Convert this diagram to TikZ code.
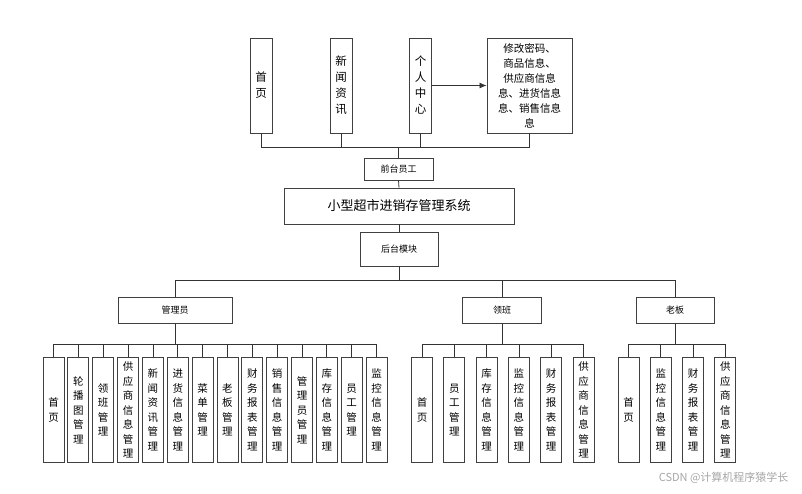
\documentclass[tikz,border=0pt]{standalone}
\usepackage{fontspec}
\setmainfont{Noto Sans CJK SC}
\usetikzlibrary{arrows.meta}
\begin{document}
\begin{tikzpicture}[x=1pt,y=-1pt,
  box/.style={draw=black!75,line width=0.9pt,fill=white,inner sep=0pt,align=center},
  vbox/.style={box,minimum width=21pt,minimum height=105pt,font=\fontsize{10.5}{14.5}\selectfont},
  tbox/.style={box,minimum width=22pt,minimum height=95pt,font=\fontsize{11.5}{16}\selectfont},
  hbox/.style={box,font=\fontsize{9}{11}\selectfont},
  ln/.style={draw=black!80,line width=0.8pt}]
\useasboundingbox (0,0) rectangle (802,494);
% top
\node[tbox] (t1) at (261,85.5) {首\\页};
\node[tbox] (t2) at (341,85.5) {新\\闻\\资\\讯};
\node[tbox] (t3) at (420.5,85.5) {个\\人\\中\\心};
\node[box,minimum width=85pt,minimum height=95pt,font=\fontsize{10.5}{15}\selectfont] (t4) at (529.5,85.5) {修改密码、\\商品信息、\\供应商信息\\息、进货信息\\息、销售信息\\息};
\node[hbox,minimum width=69pt,minimum height=22pt] (qt) at (398.5,169) {前台员工};
\node[box,minimum width=230pt,minimum height=36pt,font=\fontsize{13}{15}\selectfont] (title) at (399,206) {小型超市进销存管理系统};
\node[hbox,minimum width=78pt,minimum height=34pt] (ht) at (399,249) {后台模块};
\coordinate (tb) at (398.5,147);
\foreach \n in {t1,t2,t3,t4} \draw[ln] (\n.south) |- (tb);
\draw[ln] (tb) -- (qt.north);
\draw[ln] (qt.south) -- (title.north);
\draw[ln] (title.south) -- (ht.north);
\draw[ln,-{Latex[length=7pt,width=6pt]}] (t3.east) -- (t4.west);
% level 2
\node[hbox,minimum width=114pt,minimum height=26pt] (adm) at (175,310) {管理员};
\node[hbox,minimum width=79pt,minimum height=26pt] (lead) at (502,310) {领班};
\node[hbox,minimum width=78pt,minimum height=26pt] (boss) at (675,310) {老板};
\coordinate (b2) at (399,280);
\draw[ln] (ht.south) -- (b2);
\foreach \n in {adm,lead,boss} \draw[ln] (\n.north) |- (b2);
% admin children
\coordinate (ab) at (175,344);
\draw[ln] (adm.south) -- (ab);
\foreach [count=\i from 0] \t in {首\\页,轮\\播\\图\\管\\理,领\\班\\管\\理,供\\应\\商\\信\\息\\管\\理,新\\闻\\资\\讯\\管\\理,进\\货\\信\\息\\管\\理,菜\\单\\管\\理,老\\板\\管\\理,财\\务\\报\\表\\管\\理,销\\售\\信\\息\\管\\理,管\\理\\员\\管\\理,库\\存\\信\\息\\管\\理,员\\工\\管\\理,监\\控\\信\\息\\管\\理}{
  \node[vbox] (a\i) at ({53.5+24.85*\i},410) {\t};
  \draw[ln] (a\i.north) |- (ab);
}
% lead children
\coordinate (lb) at (502,344);
\draw[ln] (lead.south) -- (lb);
\foreach [count=\i from 0] \t in {首\\页,员\\工\\管\\理,库\\存\\信\\息\\管\\理,监\\控\\信\\息\\管\\理,财\\务\\报\\表\\管\\理,供\\应\\商\\信\\息\\管\\理}{
  \node[vbox] (l\i) at ({422+32.3*\i},410) {\t};
  \draw[ln] (l\i.north) |- (lb);
}
% boss children
\coordinate (bb) at (675,344);
\draw[ln] (boss.south) -- (bb);
\foreach [count=\i from 0] \t in {首\\页,监\\控\\信\\息\\管\\理,财\\务\\报\\表\\管\\理,供\\应\\商\\信\\息\\管\\理}{
  \node[vbox] (o\i) at ({628.5+32.3*\i},410) {\t};
  \draw[ln] (o\i.north) |- (bb);
}
\node[text=black!35,font=\fontsize{11}{13}\selectfont,anchor=east] (wm) at (792,478) {CSDN @计算机程序猿学长};
\end{tikzpicture}
\end{document}
